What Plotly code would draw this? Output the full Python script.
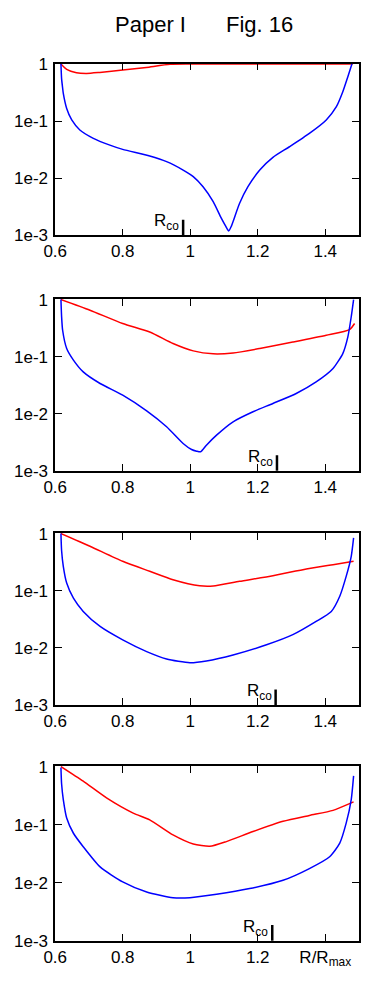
import plotly.graph_objects as go

W, H = 369, 987

# ---------------- data ----------------
p1_blue_x = [0.617, 0.619, 0.622, 0.624, 0.634, 0.649, 0.673, 0.713, 0.762, 0.80, 0.88, 0.93, 0.979,
             1.009, 1.038, 1.068, 1.092, 1.105, 1.114, 1.122, 1.127, 1.146, 1.171, 1.206, 1.245,
             1.294, 1.353, 1.403, 1.433, 1.452, 1.467, 1.479]
p1_blue_y = [1.0, 0.55, 0.38, 0.306, 0.167, 0.105, 0.070, 0.050, 0.038, 0.032, 0.0245, 0.0195, 0.0139,
             0.0107, 0.0071, 0.0039, 0.0020, 0.00145, 0.00119, 0.00145, 0.00174, 0.0036, 0.0071, 0.0139, 0.0232,
             0.0356, 0.061, 0.105, 0.179, 0.327, 0.60, 1.0]
p1_red_x = [0.617, 0.634, 0.663, 0.693, 0.732, 0.80, 0.87, 0.94, 1.0, 1.2, 1.4, 1.482]
p1_red_y = [1.0, 0.807, 0.705, 0.687, 0.715, 0.785, 0.875, 0.99, 1.0, 1.0, 1.0, 1.0]

p2_blue_x = [0.617, 0.619, 0.622, 0.634, 0.654, 0.683, 0.733, 0.80, 0.871, 0.93, 0.979, 1.004, 1.019,
             1.031, 1.048, 1.078, 1.127, 1.186, 1.245, 1.314, 1.373, 1.423, 1.452, 1.467, 1.477, 1.484]
p2_blue_y = [1.0, 0.5, 0.29, 0.139, 0.087, 0.054, 0.0338, 0.0211, 0.0112, 0.0059, 0.0030, 0.00235, 0.0022,
             0.00215, 0.0028, 0.0042, 0.0072, 0.0108, 0.0151, 0.0226, 0.036, 0.062, 0.113, 0.222, 0.50, 1.0]
p2_red_x = [0.617, 0.703, 0.80, 0.88, 0.949, 1.009, 1.068, 1.127, 1.206, 1.304, 1.403, 1.472, 1.487]
p2_red_y = [1.0, 0.65, 0.38, 0.27, 0.17, 0.126, 0.112, 0.116, 0.139, 0.18, 0.237, 0.298, 0.38]

p3_blue_x = [0.617, 0.619, 0.624, 0.634, 0.654, 0.683, 0.733, 0.80, 0.871, 0.93, 0.999, 1.048, 1.127,
             1.226, 1.304, 1.373, 1.418, 1.443, 1.462, 1.477, 1.484]
p3_blue_y = [1.0, 0.5, 0.267, 0.136, 0.074, 0.0434, 0.0237, 0.0138, 0.0086, 0.0064, 0.0055, 0.0059, 0.0075,
             0.0113, 0.017, 0.029, 0.0434, 0.080, 0.178, 0.40, 0.84]
p3_red_x = [0.617, 0.703, 0.80, 0.88, 0.949, 1.028, 1.068, 1.146, 1.245, 1.344, 1.423, 1.484]
p3_red_y = [1.0, 0.60, 0.327, 0.219, 0.156, 0.122, 0.121, 0.146, 0.183, 0.24, 0.286, 0.327]

p4_blue_x = [0.617, 0.619, 0.624, 0.634, 0.654, 0.683, 0.733, 0.80, 0.871, 0.949, 0.999, 1.078, 1.176,
             1.275, 1.353, 1.413, 1.443, 1.462, 1.477, 1.484]
p4_blue_y = [0.96, 0.5, 0.27, 0.13, 0.071, 0.0417, 0.0187, 0.0103, 0.0069, 0.0055, 0.0055, 0.0063, 0.0079,
             0.011, 0.0175, 0.028, 0.048, 0.106, 0.27, 0.69]
p4_red_x = [0.617, 0.683, 0.752, 0.831, 0.88, 0.949, 1.009, 1.058, 1.107, 1.186, 1.275, 1.353, 1.423, 1.484]
p4_red_y = [1.0, 0.56, 0.289, 0.158, 0.121, 0.0666, 0.0464, 0.0423, 0.051, 0.076, 0.114, 0.144, 0.176, 0.246]

r_co = [0.979, 1.257, 1.253, 1.243]

xtick_vals = [0.6, 0.8, 1.0, 1.2, 1.4]
xtick_text = ["0.6", "0.8", "1", "1.2", "1.4"]
xtick_text_last = ["0.6", "0.8", "1", "1.2", "R/R<sub>max</sub>"]
ytick_vals = [1e-3, 1e-2, 1e-1, 1]
ytick_text = ["1e-3", "1e-2", "1e-1", "1"]

title_left = "Paper I"
title_right = "Fig. 16"

panels = [
    (p1_blue_x, p1_blue_y, p1_red_x, p1_red_y),
    (p2_blue_x, p2_blue_y, p2_red_x, p2_red_y),
    (p3_blue_x, p3_blue_y, p3_red_x, p3_red_y),
    (p4_blue_x, p4_blue_y, p4_red_x, p4_red_y),
]

# ---------------- layout ----------------
FONT = "Liberation Sans, Arial, Helvetica, sans-serif"
frames = [(63.5, 235.3), (299.0, 470.7), (533.0, 705.0), (766.0, 940.7)]
x_dom = [55.2 / W, 359.0 / W]

fig = go.Figure()
layout = dict(
    template="none",
    width=W, height=H,
    margin=dict(l=0, r=0, t=0, b=0, autoexpand=False),
    paper_bgcolor="white", plot_bgcolor="white",
    showlegend=False,
    font=dict(family=FONT, color="black"),
)
shapes = []
annotations = []

for i, (bx, by, rx, ry) in enumerate(panels):
    n = i + 1
    xa = "x" if n == 1 else f"x{n}"
    ya = "y" if n == 1 else f"y{n}"
    fig.add_trace(go.Scatter(x=rx, y=ry, mode="lines",
                             line=dict(color="#ff0000", width=1.5, shape="spline", smoothing=0.6),
                             xaxis=xa, yaxis=ya, hoverinfo="skip"))
    fig.add_trace(go.Scatter(x=bx, y=by, mode="lines",
                             line=dict(color="#0000ff", width=1.5, shape="spline", smoothing=0.6),
                             xaxis=xa, yaxis=ya, hoverinfo="skip"))
    top, bot = frames[i]
    layout["xaxis" if n == 1 else f"xaxis{n}"] = dict(
        domain=x_dom, anchor=ya, range=[0.6, 1.5], automargin=False,
        tickmode="array", tickvals=xtick_vals,
        ticktext=xtick_text_last if n == 4 else xtick_text,
        ticks="inside", ticklen=7, tickwidth=1.2, tickcolor="black",
        showline=True, linecolor="black", linewidth=1.5, mirror="allticks",
        showgrid=False, zeroline=False,
        tickfont=dict(size=17, family=FONT, color="black"),
        ticklabelstandoff=0,
    )
    layout["yaxis" if n == 1 else f"yaxis{n}"] = dict(
        domain=[1 - bot / H, 1 - top / H], anchor=xa, type="log", range=[-3, 0.01],
        automargin=False,
        tickmode="array", tickvals=ytick_vals, ticktext=ytick_text,
        ticks="inside", ticklen=7, tickwidth=1.2, tickcolor="black",
        showline=True, linecolor="black", linewidth=1.5, mirror="allticks",
        showgrid=False, zeroline=False,
        tickfont=dict(size=17, family=FONT, color="black"),
        ticklabelstandoff=2,
    )
    # R_co marker
    shapes.append(dict(type="line", xref=xa, yref=f"{ya} domain",
                       x0=r_co[i], x1=r_co[i], y0=0, y1=0.09,
                       line=dict(color="black", width=2.5)))
    annotations.append(dict(xref=xa, yref=f"{ya} domain", x=r_co[i], y=0,
                            xanchor="right", yanchor="bottom", xshift=-2, yshift=0,
                            text="R<sub>co</sub>", showarrow=False,
                            font=dict(size=17, family=FONT, color="black")))

annotations.append(dict(xref="paper", yref="paper", x=150.5 / W, y=1 - 25 / H,
                        xanchor="center", yanchor="middle", text=title_left, showarrow=False,
                        font=dict(size=22, family=FONT, color="black")))
annotations.append(dict(xref="paper", yref="paper", x=259 / W, y=1 - 25 / H,
                        xanchor="center", yanchor="middle", text=title_right, showarrow=False,
                        font=dict(size=22, family=FONT, color="black")))

layout["shapes"] = shapes
layout["annotations"] = annotations
fig.update_layout(**layout)
fig.write_html(
    "out.html",
    config={"displayModeBar": False},
    post_script="document.body.style.margin='0';document.body.style.overflow='hidden';"
                "document.documentElement.style.overflow='hidden';",
)
